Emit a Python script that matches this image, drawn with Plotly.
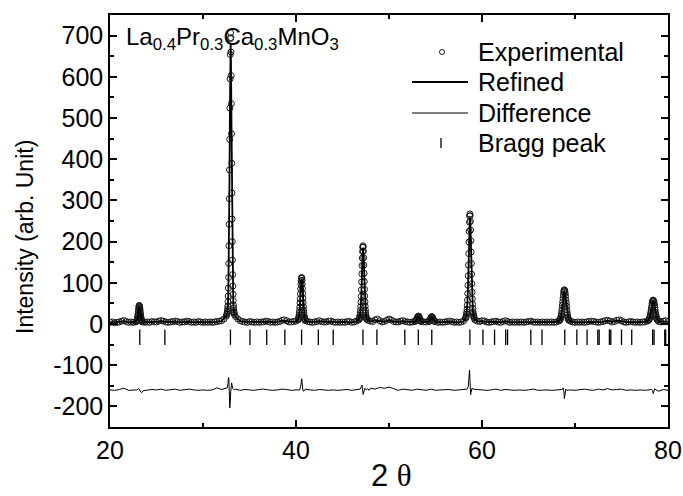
import numpy as np
import plotly.graph_objects as go

# ---------------- observed pattern ----------------
# background scan, one count per 0.25 deg from 20 to 80 deg
OBS_BG_START, OBS_BG_STEP = 20.0, 0.25
obs_bg_counts = [
    4, 5, 3, 4, 5, 7, 8, 6, 4, 5, 4, 5, 16, 30, 5, 4, 5, 4, 6, 5,
    5, 7, 8, 7, 5, 4, 5, 6, 7, 6, 4, 5, 5, 7, 6, 4, 5, 4, 6, 5,
    4, 5, 4, 5, 4, 5, 6, 7, 8, 12, 19, 65, 690, 50, 18, 12, 8, 6, 5, 4,
    6, 5, 4, 5, 4, 5, 5, 7, 6, 4, 5, 4, 5, 6, 9, 10, 8, 5, 5, 6,
    7, 10, 85, 60, 8, 6, 5, 4, 5, 6, 8, 6, 5, 5, 7, 7, 5, 4, 5, 4,
    5, 4, 6, 6, 4, 5, 7, 10, 100, 180, 30, 9, 7, 6, 10, 12, 8, 5, 6, 9,
    12, 10, 6, 5, 5, 7, 8, 6, 5, 4, 5, 6, 14, 18, 7, 5, 5, 6, 15, 14,
    6, 4, 5, 4, 5, 6, 7, 6, 4, 5, 4, 5, 7, 15, 120, 250, 40, 10, 7, 6,
    8, 7, 5, 4, 5, 6, 7, 5, 4, 6, 8, 6, 4, 5, 4, 5, 4, 5, 4, 5,
    6, 7, 5, 4, 5, 4, 5, 4, 5, 4, 5, 4, 5, 7, 20, 80, 60, 12, 7, 5,
    4, 5, 4, 5, 4, 5, 6, 7, 6, 5, 4, 5, 6, 8, 9, 7, 5, 6, 9, 10,
    8, 5, 4, 5, 6, 5, 4, 5, 4, 5, 5, 7, 10, 40, 54, 15, 6, 5, 7, 8,
    6,
]

# fine scans across the reflections: (first 2theta, step, counts)
obs_p23 = (22.85, 0.02, [6, 7, 8, 9, 10, 12, 15, 18, 22, 26, 30, 34, 38, 42, 44, 45,
                         44, 41, 38, 34, 29, 25, 21, 18, 15, 12, 10, 9, 8, 7, 6])
obs_p33 = (32.57, 0.02, [23, 25, 28, 32, 37, 44, 54, 68, 87, 113, 147, 190, 242, 304, 374,
                         448, 524, 595, 654, 693, 707, 695, 660, 603, 535, 462, 390, 318,
                         255, 200, 155, 120, 92, 72, 57, 46, 39, 33, 29, 26, 23])
obs_p40 = (40.24, 0.024, [10, 12, 14, 17, 21, 26, 33, 41, 51, 61, 73, 85, 96, 105, 111, 113,
                          111, 106, 97, 86, 74, 62, 52, 42, 34, 27, 21, 17, 14, 12, 10])
obs_p47 = (46.792, 0.024, [11, 13, 15, 17, 21, 26, 33, 42, 53, 67, 83, 102, 122, 142, 160, 176,
                           186, 190, 187, 177, 161, 143, 123, 103, 84, 68, 54, 43, 34, 27, 21,
                           17, 15, 13, 11])
obs_p53 = (52.85, 0.05, [7, 8, 11, 13, 16, 18, 19, 19, 16, 13, 10, 8, 6])
obs_p54 = (54.30, 0.05, [6, 7, 10, 12, 15, 17, 18, 17, 15, 12, 9, 7, 6])
obs_p58 = (58.232, 0.026, [14, 15, 17, 20, 24, 29, 36, 46, 58, 74, 94, 117, 143, 171, 199, 225,
                           247, 262, 267, 263, 249, 228, 202, 175, 147, 121, 98, 77, 61, 48, 38,
                           30, 25, 21, 18, 15, 14])
obs_p68 = (68.34, 0.034, [9, 10, 11, 13, 16, 20, 25, 31, 38, 46, 54, 62, 70, 77, 81, 83,
                          82, 79, 74, 67, 59, 51, 43, 35, 28, 22, 17, 14, 11, 10, 9])
obs_p78 = (77.90, 0.036, [9, 10, 11, 13, 16, 19, 23, 28, 33, 39, 44, 50, 54, 57, 58,
                          57, 55, 51, 46, 40, 34, 28, 23, 19, 15, 12, 11, 10, 9])
obs_peaks = [obs_p23, obs_p33, obs_p40, obs_p47, obs_p53, obs_p54, obs_p58, obs_p68, obs_p78]

# ---------------- refined (calculated) pattern ----------------
REF_BG_START, REF_BG_STEP = 20.0, 0.5
ref_bg_counts = [
    4, 4, 5, 7, 4, 4, 16, 5, 4, 5,
    5, 7, 5, 5, 6, 4, 5, 6, 4, 5,
    4, 4, 4, 5, 7, 18, 660, 17, 7, 5,
    5, 4, 4, 5, 6, 4, 5, 8, 7, 5,
    6, 100, 7, 5, 5, 7, 5, 6, 5, 4,
    5, 5, 4, 6, 120, 40, 6, 9, 7, 5,
    10, 6, 5, 7, 5, 5, 14, 6, 5, 15,
    5, 4, 5, 6, 4, 4, 6, 110, 40, 6,
    7, 5, 5, 6, 4, 7, 4, 4, 4, 4,
    5, 5, 4, 4, 4, 4, 5, 20, 60, 6,
    4, 4, 4, 5, 5, 4, 5, 8, 5, 8,
    7, 4, 5, 4, 4, 5, 10, 52, 5, 6,
    6,
]
ref_p23 = (22.87, 0.04, [7, 9, 12, 17, 25, 33, 40, 43, 40, 33, 25, 17, 12, 9, 7])
ref_p33 = (32.57, 0.04, [22, 27, 36, 52, 84, 141, 233, 360, 504, 629, 680, 635, 515, 375, 245,
                         150, 90, 55, 38, 28, 23])
ref_p40 = (40.264, 0.048, [12, 17, 26, 40, 60, 82, 102, 110, 102, 82, 60, 40, 26, 17, 12])
ref_p47 = (46.816, 0.048, [13, 17, 25, 41, 65, 99, 138, 171, 185, 171, 138, 99, 65, 41, 25, 17, 13])
ref_p53 = (52.85, 0.1, [6, 10, 15, 18, 15, 10, 6])
ref_p54 = (54.30, 0.1, [6, 9, 14, 17, 14, 9, 6])
ref_p58 = (58.232, 0.052, [14, 17, 23, 35, 57, 91, 139, 194, 241, 260, 241, 194, 139, 91, 57, 35,
                           23, 17, 14])
ref_p68 = (68.374, 0.068, [9, 13, 19, 30, 44, 60, 74, 80, 75, 63, 47, 32, 21, 14, 10])
ref_p78 = (77.90, 0.072, [9, 11, 15, 22, 32, 43, 52, 56, 52, 43, 32, 22, 15, 11, 9])
ref_peaks = [ref_p23, ref_p33, ref_p40, ref_p47, ref_p53, ref_p54, ref_p58, ref_p68, ref_p78]

# ---------------- difference curve (offset, as plotted) ----------------
DIFF_START, DIFF_STEP = 20.0, 0.5
diff_grid = [
    -160, -161, -159, -156, -161, -160, -158, -163, -160, -159,
    -160, -158, -161, -160, -158, -161, -160, -158, -160, -161,
    -160, -161, -160, -155, -159, -157, -158, -158, -161, -159,
    -160, -161, -159, -158, -160, -161, -160, -158, -159, -161,
    -160, -152, -158, -160, -161, -159, -160, -161, -160, -161,
    -160, -159, -161, -160, -152, -160, -156, -158, -154, -156,
    -153, -157, -161, -158, -160, -161, -158, -160, -161, -158,
    -161, -160, -160, -159, -161, -160, -159, -156, -158, -159,
    -160, -161, -160, -158, -161, -159, -160, -161, -160, -161,
    -160, -158, -161, -160, -160, -161, -160, -160, -158, -160,
    -161, -160, -158, -160, -161, -158, -160, -157, -160, -159,
    -158, -161, -160, -161, -160, -161, -160, -160, -163, -159,
    -161,
]
diff_d23 = ([22.90, 23.05, 23.15, 23.30, 23.40, 23.55], [-160, -157, -158, -165, -167, -162])
diff_d33 = ([32.60, 32.68, 32.74, 32.78, 32.84, 32.88, 32.93, 32.98, 33.03, 33.08, 33.14, 33.22, 33.35],
            [-155, -145, -130, -133, -175, -204, -190, -165, -148, -143, -150, -157, -160])
diff_d40 = ([40.40, 40.50, 40.56, 40.62, 40.68, 40.75, 40.85], [-160, -152, -137, -133, -148, -162, -163])
diff_d47 = ([46.90, 47.02, 47.10, 47.16, 47.22, 47.30, 47.40, 47.55, 47.70, 47.85],
            [-158, -152, -148, -160, -171, -165, -156, -160, -157, -161])
diff_d58 = ([58.40, 58.52, 58.60, 58.66, 58.72, 58.77, 58.83, 58.92, 59.05],
            [-158, -152, -128, -112, -142, -172, -166, -156, -158])
diff_d68 = ([68.62, 68.72, 68.80, 68.86, 68.93, 69.02, 69.12], [-159, -155, -163, -181, -166, -158, -161])
diff_d78 = ([78.25, 78.35, 78.41, 78.48, 78.58, 78.70], [-159, -162, -169, -163, -157, -160])
diff_features = [diff_d23, diff_d33, diff_d40, diff_d47, diff_d58, diff_d68, diff_d78]

# ---------------- Bragg reflection positions ----------------
bragg_2theta = [23.2, 25.9, 32.95, 35.05, 36.85, 38.8, 40.6, 42.4, 44.0, 47.2, 48.7, 51.7,
                53.15, 54.6, 58.7, 60.1, 61.35, 62.55, 62.75, 65.25, 66.45, 68.9, 70.2,
                71.3, 72.45, 72.6, 73.7, 73.85, 75.0, 76.1, 78.35, 78.5, 79.65, 79.75]
BRAGG_ROW = -32

x_ticks = [20, 40, 60, 80]
y_ticks = [-200, -100, 0, 100, 200, 300, 400, 500, 600, 700]
y_tick_labels = ["-200", "-100", "0", "100", "200", "300", "400", "500", "600", "700"]
legend_labels = ["Experimental", "Refined", "Difference", "Bragg peak"]


def merge(grid_start, grid_step, grid_vals, segments):
    gx = grid_start + grid_step * np.arange(len(grid_vals))
    gy = np.asarray(grid_vals, dtype=float)
    xs, ys, wins = [], [], []
    for seg in segments:
        if len(seg) == 3:
            s0, st, vals = seg
            sx = s0 + st * np.arange(len(vals))
        else:
            sx, vals = np.asarray(seg[0]), seg[1]
        xs.append(sx)
        ys.append(np.asarray(vals, dtype=float))
        wins.append((sx.min() - 1e-6, sx.max() + 1e-6))
    keep = np.ones(len(gx), bool)
    for a, b in wins:
        keep &= ~((gx >= a) & (gx <= b))
    X = np.concatenate([gx[keep]] + xs)
    Y = np.concatenate([gy[keep]] + ys)
    o = np.argsort(X)
    return X[o], Y[o]


ox, oy = merge(OBS_BG_START, OBS_BG_STEP, obs_bg_counts, obs_peaks)
rx, ry = merge(REF_BG_START, REF_BG_STEP, ref_bg_counts, ref_peaks)
dx, dy = merge(DIFF_START, DIFF_STEP, diff_grid, diff_features)

FONT = "Liberation Sans, Arial, Helvetica, sans-serif"
W, H = 683, 496
ML, MR, MT, MB = 110, 15, 15, 69
PW, PH = W - ML - MR, H - MT - MB


def px(x):  # pixel -> paper x
    return (x - ML) / PW


def py(y):  # pixel -> paper y
    return 1 - (y - MT) / PH


fig = go.Figure()
fig.add_trace(go.Scatter(x=ox, y=oy, mode="markers", name=legend_labels[0],
                         marker=dict(symbol="circle-open", size=6, color="#1a1a1a",
                                     line=dict(width=1, color="#1a1a1a"))))
fig.add_trace(go.Scatter(x=rx, y=ry, mode="lines", name=legend_labels[1],
                         line=dict(color="black", width=1.8)))
fig.add_trace(go.Scatter(x=dx, y=dy, mode="lines", name=legend_labels[2],
                         line=dict(color="black", width=1)))
fig.add_trace(go.Scatter(x=bragg_2theta, y=[BRAGG_ROW] * len(bragg_2theta), mode="markers",
                         name=legend_labels[3],
                         marker=dict(symbol="line-ns-open", size=11, color="black",
                                     line=dict(width=1.3, color="black"))))

axis_common = dict(showline=True, linecolor="black", linewidth=1.5, mirror="ticks",
                   ticks="inside", tickcolor="black", tickwidth=1.5, showgrid=False,
                   zeroline=False, automargin=False,
                   tickfont=dict(family=FONT, size=25, color="black"))

fig.update_xaxes(range=[20, 80], tickvals=x_ticks, ticklen=7, ticklabelstandoff=0,
                 minor=dict(dtick=10, tick0=0, ticks="inside", ticklen=4,
                            tickcolor="black", tickwidth=1.5, showgrid=False),
                 **axis_common)
fig.update_yaxes(range=[-250, 750], tickvals=y_ticks, ticktext=y_tick_labels, ticklen=7,
                 minor=dict(dtick=50, tick0=0, ticks="inside", ticklen=4,
                            tickcolor="black", tickwidth=1.5, showgrid=False),
                 **axis_common)

# axis titles
fig.add_annotation(text="2 <span style='font-family:Liberation Serif, Times New Roman, serif'>θ</span>",
                   xref="paper", yref="paper", x=px(391), y=py(495),
                   xanchor="center", yanchor="bottom", showarrow=False,
                   font=dict(family=FONT, size=31, color="black"))
fig.add_annotation(text="Intensity (arb. Unit)", textangle=-90,
                   xref="paper", yref="paper", x=px(25), y=py(237),
                   xanchor="center", yanchor="middle", showarrow=False,
                   font=dict(family=FONT, size=23, color="black"))

fig.add_annotation(text="La<sub>0.4</sub>Pr<sub>0.3</sub>Ca<sub>0.3</sub>MnO<sub>3</sub>",
                   xref="paper", yref="paper", x=0.025, y=0.985, xanchor="left", yanchor="top",
                   showarrow=False, font=dict(family=FONT, size=24, color="black"))

# hand-laid legend (Origin style: long line samples, tight rows)
row_y = [52, 82, 113, 143]
for lab, yy in zip(legend_labels, row_y):
    fig.add_annotation(text=lab, xref="paper", yref="paper", x=px(476), y=py(yy),
                       xanchor="left", yanchor="middle", showarrow=False,
                       font=dict(family=FONT, size=25, color="black"))
fig.add_shape(type="circle", xref="paper", yref="paper",
              x0=px(439.5), x1=px(444.5), y0=py(49.5), y1=py(54.5),
              line=dict(color="#1a1a1a", width=1))
fig.add_shape(type="line", xref="paper", yref="paper", x0=px(412), x1=px(468),
              y0=py(row_y[1]), y1=py(row_y[1]), line=dict(color="black", width=1.8))
fig.add_shape(type="line", xref="paper", yref="paper", x0=px(412), x1=px(468),
              y0=py(row_y[2]), y1=py(row_y[2]), line=dict(color="black", width=1))
fig.add_shape(type="line", xref="paper", yref="paper", x0=px(441), x1=px(441),
              y0=py(row_y[3] - 5), y1=py(row_y[3] + 5), line=dict(color="black", width=1.3))

fig.update_layout(
    width=W, height=H,
    margin=dict(l=ML, r=MR, t=MT, b=MB),
    paper_bgcolor="white", plot_bgcolor="white",
    font=dict(family=FONT, size=24, color="black"),
    showlegend=False,
)

fig.write_html("out.html")
